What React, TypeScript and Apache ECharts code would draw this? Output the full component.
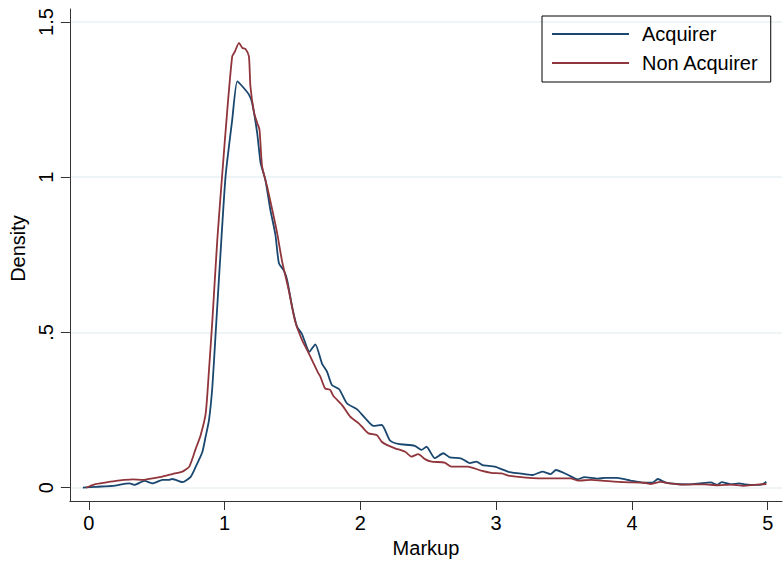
import React, { useEffect, useRef } from "react";
import * as echarts from "echarts";

const xTicks = [0, 1, 2, 3, 4, 5];
const yTicks = [0, 0.5, 1, 1.5];
const yTickLabels = ["0", ".5", "1", "1.5"];
const seriesNames = ["Acquirer", "Non Acquirer"];
const xTitle = "Markup";
const yTitle = "Density";

const acquirer: [number, number][] = [
  [-0.044, 0], [0.054, 0.003], [0.176, 0.006], [0.3, 0.014], [0.335, 0.009],
  [0.41, 0.022], [0.47, 0.014], [0.543, 0.025], [0.59, 0.025], [0.616, 0.028],
  [0.69, 0.018], [0.75, 0.035], [0.79, 0.07], [0.836, 0.115], [0.86, 0.164],
  [0.885, 0.218], [0.91, 0.326], [0.934, 0.498], [0.97, 0.756], [1.007, 1.003],
  [1.056, 1.185], [1.093, 1.309], [1.13, 1.293], [1.179, 1.266], [1.203, 1.239],
  [1.24, 1.142], [1.265, 1.046], [1.3, 0.992], [1.337, 0.895], [1.374, 0.815],
  [1.4, 0.723], [1.436, 0.7], [1.46, 0.67], [1.497, 0.583], [1.533, 0.519],
  [1.57, 0.495], [1.625, 0.438], [1.668, 0.462], [1.717, 0.4], [1.754, 0.374],
  [1.79, 0.331], [1.844, 0.317], [1.9, 0.272], [1.974, 0.253], [2.035, 0.224],
  [2.096, 0.199], [2.157, 0.202], [2.218, 0.152], [2.28, 0.141], [2.4, 0.135],
  [2.45, 0.122], [2.487, 0.132], [2.548, 0.095], [2.61, 0.111], [2.658, 0.098],
  [2.744, 0.094], [2.805, 0.079], [2.854, 0.084], [2.9, 0.073], [2.99, 0.068],
  [3.1, 0.05], [3.21, 0.044], [3.27, 0.041], [3.34, 0.052], [3.4, 0.044],
  [3.44, 0.057], [3.53, 0.041], [3.6, 0.027], [3.65, 0.034], [3.75, 0.029],
  [3.8, 0.032], [3.89, 0.032], [3.99, 0.023], [4.09, 0.016], [4.15, 0.016],
  [4.19, 0.028], [4.25, 0.016], [4.33, 0.012], [4.43, 0.011], [4.5, 0.014],
  [4.58, 0.017], [4.63, 0.009], [4.66, 0.018], [4.73, 0.011], [4.79, 0.014],
  [4.83, 0.011], [4.91, 0.009], [4.96, 0.011], [4.99, 0.019],
];

const nonAcquirer: [number, number][] = [
  [-0.02, 0], [0.042, 0.011], [0.127, 0.017], [0.2, 0.022], [0.26, 0.025],
  [0.323, 0.027], [0.396, 0.025], [0.47, 0.03], [0.543, 0.036], [0.616, 0.044],
  [0.69, 0.052], [0.74, 0.068], [0.787, 0.125], [0.824, 0.17], [0.861, 0.24],
  [0.885, 0.379], [0.91, 0.54], [0.946, 0.798], [0.983, 1.013], [1.02, 1.218],
  [1.056, 1.389], [1.076, 1.405], [1.106, 1.433], [1.13, 1.417], [1.154, 1.413],
  [1.179, 1.389], [1.19, 1.293], [1.216, 1.21], [1.24, 1.175], [1.257, 1.153],
  [1.276, 1.035], [1.313, 0.97], [1.35, 0.897], [1.387, 0.82], [1.423, 0.73],
  [1.472, 0.637], [1.52, 0.535], [1.57, 0.476], [1.607, 0.444], [1.656, 0.4],
  [1.69, 0.369], [1.705, 0.358], [1.74, 0.32], [1.778, 0.315], [1.8, 0.296],
  [1.864, 0.267], [1.925, 0.229], [1.986, 0.208], [2.023, 0.191], [2.06, 0.175],
  [2.12, 0.17], [2.157, 0.148], [2.194, 0.138], [2.255, 0.127], [2.33, 0.116],
  [2.377, 0.1], [2.426, 0.108], [2.475, 0.092], [2.524, 0.084], [2.62, 0.081],
  [2.67, 0.068], [2.79, 0.068], [2.89, 0.055], [2.964, 0.048], [3.04, 0.046],
  [3.1, 0.038], [3.31, 0.03], [3.45, 0.03], [3.55, 0.03], [3.6, 0.023],
  [3.7, 0.025], [3.8, 0.022], [3.94, 0.018], [4.09, 0.016], [4.14, 0.012],
  [4.21, 0.019], [4.28, 0.014], [4.38, 0.01], [4.53, 0.011], [4.63, 0.008],
  [4.73, 0.01], [4.82, 0.006], [4.9, 0.009], [4.99, 0.012],
];

const colors = ["#1a476f", "#90353b"];

export default function App() {
  const ref = useRef<HTMLDivElement>(null);
  useEffect(() => {
    if (!ref.current) return;
    const chart = echarts.init(ref.current, null, { renderer: "svg" });
    const font = "'Liberation Sans', Arial, Helvetica, sans-serif";
    chart.setOption({
      animation: false,
      backgroundColor: "#ffffff",
      grid: { left: 67, right: 2, top: 9, bottom: 62, containLabel: false },
      legend: {
        orient: "vertical",
        left: 542,
        top: 16,
        padding: [8, 12, 9, 9],
        borderColor: "#000",
        borderWidth: 1,
        itemWidth: 77,
        itemHeight: 20,
        itemGap: 9,
        itemStyle: { opacity: 0 },
        textStyle: { fontSize: 20, fontFamily: font, color: "#000", padding: [0, 0, 0, 8] },
        data: seriesNames,
      },
      xAxis: {
        type: "value",
        min: -0.1394,
        max: 5.105,
        name: xTitle,
        nameLocation: "middle",
        nameGap: 35,
        nameTextStyle: { fontSize: 20, fontFamily: font, color: "#000" },
        axisLine: { show: true, onZero: false, lineStyle: { color: "#333", width: 1 } },
        axisTick: { show: true, length: 9, customValues: xTicks, lineStyle: { color: "#333" } },
        axisLabel: {
          customValues: xTicks,
          fontSize: 20,
          margin: 12,
          color: "#000",
          fontFamily: font,
          formatter: (v: number) => String(v),
        },
        splitLine: { show: false },
      },
      yAxis: {
        type: "value",
        min: -0.0428,
        max: 1.5419,
        name: yTitle,
        nameLocation: "middle",
        nameGap: 35,
        nameRotate: 90,
        nameTextStyle: { fontSize: 20, fontFamily: font, color: "#000", padding: [0, 0, 0, 13] },
        axisLine: { show: true, onZero: false, lineStyle: { color: "#333", width: 1 } },
        axisTick: { show: true, length: 9, customValues: yTicks, lineStyle: { color: "#333" } },
        axisLabel: {
          customValues: yTicks,
          rotate: 90,
          fontSize: 20,
          margin: 14,
          color: "#000",
          fontFamily: font,
          formatter: (v: number) => {
            const i = yTicks.findIndex((t) => Math.abs(t - v) < 1e-9);
            return i >= 0 ? yTickLabels[i] : "";
          },
        },
        splitLine: { show: true, lineStyle: { color: "#eaf2f3", width: 1.5 } },
      },
      series: [
        {
          name: seriesNames[0],
          type: "line",
          data: acquirer,
          symbol: "none",
          showSymbol: false,
          smooth: 0.2,
          lineStyle: { color: colors[0], width: 1.8 },
          itemStyle: { color: colors[0] },
        },
        {
          name: seriesNames[1],
          type: "line",
          data: nonAcquirer,
          symbol: "none",
          showSymbol: false,
          smooth: 0.2,
          lineStyle: { color: colors[1], width: 1.8 },
          itemStyle: { color: colors[1] },
        },
      ],
    });
    return () => chart.dispose();
  }, []);
  return (
    <div
      ref={ref}
      style={{ position: "absolute", left: 0, top: 0, width: 784, height: 563 }}
    />
  );
}
